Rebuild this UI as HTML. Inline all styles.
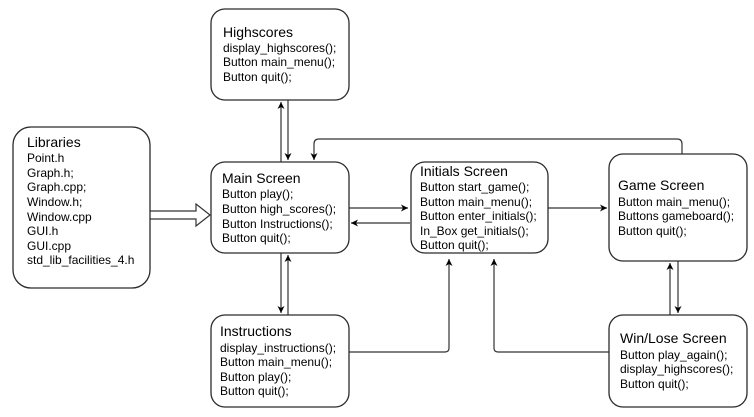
<!DOCTYPE html>
<html><head><meta charset="utf-8"><style>
html,body{margin:0;padding:0;background:#fff;}
svg{display:block;font-family:"Liberation Sans",Arial,sans-serif;}
.b{fill:#fff;stroke:#2b2b2b;stroke-width:1.3;}
.t{font-size:14px;fill:#000;}
.s{font-size:12px;fill:#000;}
.l{fill:none;stroke:#333;stroke-width:1.2;}
</style></head><body>
<svg width="754" height="417" viewBox="0 0 754 417">
<defs><marker id="a" markerWidth="8" markerHeight="8" refX="7" refY="4" orient="auto" markerUnits="userSpaceOnUse"><path d="M0,0.5 L7,4 L0,7.5 L2,4 Z" fill="#000"/></marker></defs>
<line class="l" x1="281" y1="162" x2="281" y2="102" marker-end="url(#a)"/>
<line class="l" x1="288" y1="100" x2="288" y2="160" marker-end="url(#a)"/>
<line class="l" x1="281" y1="253" x2="281" y2="313" marker-end="url(#a)"/>
<line class="l" x1="288" y1="315" x2="288" y2="255" marker-end="url(#a)"/>
<path class="l" d="M682,154 L682,144 Q682,139 677,139 L319,139 Q314,139 314,144 L314,160" marker-end="url(#a)"/>
<line class="l" x1="349" y1="208" x2="408" y2="208" marker-end="url(#a)"/>
<line class="l" x1="410" y1="223" x2="351" y2="223" marker-end="url(#a)"/>
<line class="l" x1="548" y1="208" x2="607" y2="208" marker-end="url(#a)"/>
<line class="l" x1="670" y1="315" x2="670" y2="263" marker-end="url(#a)"/>
<line class="l" x1="678" y1="261" x2="678" y2="313" marker-end="url(#a)"/>
<path class="l" d="M349,352 L445,352 Q449,352 449,348 L449,259" marker-end="url(#a)"/>
<path class="l" d="M609,352 L498,352 Q494,352 494,348 L494,259" marker-end="url(#a)"/>
<path d="M150.5,211 L196,211 L196,204 L210,215 L196,226 L196,219 L150.5,219" fill="#fff" stroke="#333" stroke-width="1.2"/>

<rect class="b" x="211" y="9" width="138" height="91" rx="14"/>
<text class="t" x="223" y="37">Highscores</text>
<text class="s" x="223" y="52">display_highscores();</text>
<text class="s" x="223" y="66">Button main_menu();</text>
<text class="s" x="223" y="81">Button quit();</text>

<rect class="b" x="13" y="127" width="137" height="161" rx="18"/>
<text class="t" x="27" y="147">Libraries</text>
<text class="s" x="27" y="162">Point.h</text>
<text class="s" x="27" y="177">Graph.h;</text>
<text class="s" x="27" y="191">Graph.cpp;</text>
<text class="s" x="27" y="206">Window.h;</text>
<text class="s" x="27" y="221">Window.cpp</text>
<text class="s" x="27" y="235">GUI.h</text>
<text class="s" x="27" y="250">GUI.cpp</text>
<text class="s" x="27" y="264">std_lib_facilities_4.h</text>

<rect class="b" x="211" y="162" width="138" height="91" rx="14"/>
<text class="t" x="222" y="183">Main Screen</text>
<text class="s" x="222" y="198">Button play();</text>
<text class="s" x="222" y="213">Button high_scores();</text>
<text class="s" x="222" y="228">Button Instructions();</text>
<text class="s" x="222" y="242">Button quit();</text>

<rect class="b" x="411" y="162" width="137" height="91" rx="14"/>
<text class="t" x="420" y="176">Initials Screen</text>
<text class="s" x="420" y="191">Button start_game();</text>
<text class="s" x="420" y="206">Button main_menu();</text>
<text class="s" x="420" y="220">Button enter_initials();</text>
<text class="s" x="420" y="235">In_Box get_initials();</text>
<text class="s" x="420" y="249">Button quit();</text>

<rect class="b" x="609" y="154" width="138" height="107" rx="14"/>
<text class="t" x="618" y="190">Game Screen</text>
<text class="s" x="618" y="206">Button main_menu();</text>
<text class="s" x="618" y="220">Buttons gameboard();</text>
<text class="s" x="618" y="235">Button quit();</text>

<rect class="b" x="211" y="315" width="138" height="92" rx="14"/>
<text class="t" x="220" y="336">Instructions</text>
<text class="s" x="220" y="352">display_instructions();</text>
<text class="s" x="220" y="366">Button main_menu();</text>
<text class="s" x="220" y="381">Button play();</text>
<text class="s" x="220" y="395">Button quit();</text>

<rect class="b" x="609" y="315" width="138" height="92" rx="14"/>
<text class="t" x="620" y="343">Win/Lose Screen</text>
<text class="s" x="620" y="359">Button play_again();</text>
<text class="s" x="620" y="373">display_highscores();</text>
<text class="s" x="620" y="388">Button quit();</text>
</svg>
</body></html>
